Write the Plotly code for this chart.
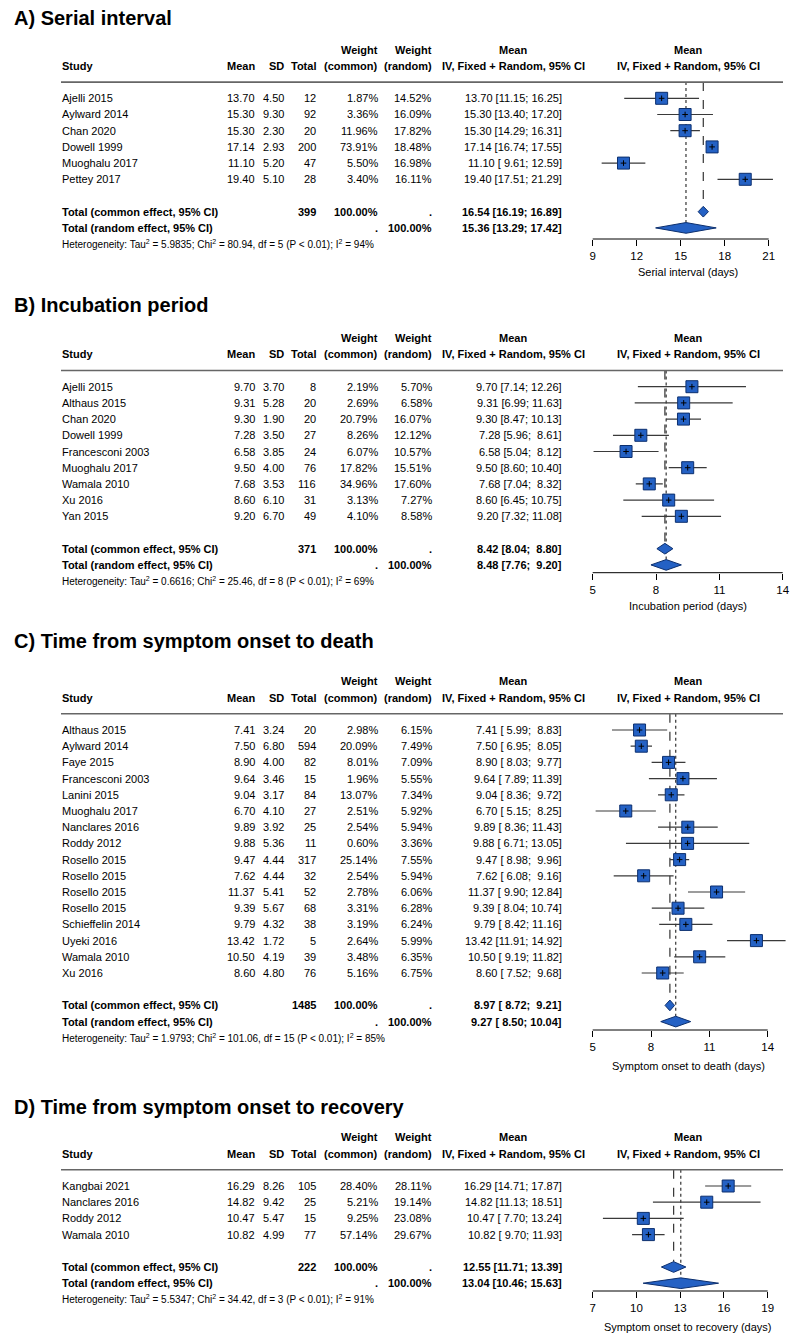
import plotly.graph_objects as go

# ---------------- DATA ----------------
# Panel A: Serial interval
a_title = "A) Serial interval"
a_study = ["Ajelli 2015", "Aylward 2014", "Chan 2020", "Dowell 1999", "Muoghalu 2017", "Pettey 2017"]
a_mean = [13.70, 15.30, 15.30, 17.14, 11.10, 19.40]
a_sd = [4.50, 9.30, 2.30, 2.93, 5.20, 5.10]
a_n = [12, 92, 20, 200, 47, 28]
a_wc = [1.87, 3.36, 11.96, 73.91, 5.50, 3.40]
a_wr = [14.52, 16.09, 17.82, 18.48, 16.98, 16.11]
a_lo = [11.15, 13.40, 14.29, 16.74, 9.61, 17.51]
a_hi = [16.25, 17.20, 16.31, 17.55, 12.59, 21.29]
a_common = [16.54, 16.19, 16.89]
a_random = [15.36, 13.29, 17.42]
a_ntotal = 399
a_het = ["5.9835", "80.94", "5", "94%"]
a_ticks = [9, 12, 15, 18, 21]
a_xlabel = "Serial interval (days)"

# Panel B: Incubation period
b_title = "B) Incubation period"
b_study = ["Ajelli 2015", "Althaus 2015", "Chan 2020", "Dowell 1999", "Francesconi 2003",
           "Muoghalu 2017", "Wamala 2010", "Xu 2016", "Yan 2015"]
b_mean = [9.70, 9.31, 9.30, 7.28, 6.58, 9.50, 7.68, 8.60, 9.20]
b_sd = [3.70, 5.28, 1.90, 3.50, 3.85, 4.00, 3.53, 6.10, 6.70]
b_n = [8, 20, 20, 27, 24, 76, 116, 31, 49]
b_wc = [2.19, 2.69, 20.79, 8.26, 6.07, 17.82, 34.96, 3.13, 4.10]
b_wr = [5.70, 6.58, 16.07, 12.12, 10.57, 15.51, 17.60, 7.27, 8.58]
b_lo = [7.14, 6.99, 8.47, 5.96, 5.04, 8.60, 7.04, 6.45, 7.32]
b_hi = [12.26, 11.63, 10.13, 8.61, 8.12, 10.40, 8.32, 10.75, 11.08]
b_common = [8.42, 8.04, 8.80]
b_random = [8.48, 7.76, 9.20]
b_ntotal = 371
b_het = ["0.6616", "25.46", "8", "69%"]
b_ticks = [5, 8, 11, 14]
b_xlabel = "Incubation period (days)"

# Panel C: Time from symptom onset to death
c_title = "C) Time from symptom onset to death"
c_study = ["Althaus 2015", "Aylward 2014", "Faye 2015", "Francesconi 2003", "Lanini 2015",
           "Muoghalu 2017", "Nanclares 2016", "Roddy 2012", "Rosello 2015", "Rosello 2015",
           "Rosello 2015", "Rosello 2015", "Schieffelin 2014", "Uyeki 2016", "Wamala 2010", "Xu 2016"]
c_mean = [7.41, 7.50, 8.90, 9.64, 9.04, 6.70, 9.89, 9.88, 9.47, 7.62, 11.37, 9.39, 9.79, 13.42, 10.50, 8.60]
c_sd = [3.24, 6.80, 4.00, 3.46, 3.17, 4.10, 3.92, 5.36, 4.44, 4.44, 5.41, 5.67, 4.32, 1.72, 4.19, 4.80]
c_n = [20, 594, 82, 15, 84, 27, 25, 11, 317, 32, 52, 68, 38, 5, 39, 76]
c_wc = [2.98, 20.09, 8.01, 1.96, 13.07, 2.51, 2.54, 0.60, 25.14, 2.54, 2.78, 3.31, 3.19, 2.64, 3.48, 5.16]
c_wr = [6.15, 7.49, 7.09, 5.55, 7.34, 5.92, 5.94, 3.36, 7.55, 5.94, 6.06, 6.28, 6.24, 5.99, 6.35, 6.75]
c_lo = [5.99, 6.95, 8.03, 7.89, 8.36, 5.15, 8.36, 6.71, 8.98, 6.08, 9.90, 8.04, 8.42, 11.91, 9.19, 7.52]
c_hi = [8.83, 8.05, 9.77, 11.39, 9.72, 8.25, 11.43, 13.05, 9.96, 9.16, 12.84, 10.74, 11.16, 14.92, 11.82, 9.68]
c_common = [8.97, 8.72, 9.21]
c_random = [9.27, 8.50, 10.04]
c_ntotal = 1485
c_het = ["1.9793", "101.06", "15", "85%"]
c_ticks = [5, 8, 11, 14]
c_xlabel = "Symptom onset to death (days)"

# Panel D: Time from symptom onset to recovery
d_title = "D) Time from symptom onset to recovery"
d_study = ["Kangbai 2021", "Nanclares 2016", "Roddy 2012", "Wamala 2010"]
d_mean = [16.29, 14.82, 10.47, 10.82]
d_sd = [8.26, 9.42, 5.47, 4.99]
d_n = [105, 25, 15, 77]
d_wc = [28.40, 5.21, 9.25, 57.14]
d_wr = [28.11, 19.14, 23.08, 29.67]
d_lo = [14.71, 11.13, 7.70, 9.70]
d_hi = [17.87, 18.51, 13.24, 11.93]
d_common = [12.55, 11.71, 13.39]
d_random = [13.04, 10.46, 15.63]
d_ntotal = 222
d_het = ["5.5347", "34.42", "3", "91%"]
d_ticks = [7, 10, 13, 16, 19]
d_xlabel = "Symptom onset to recovery (days)"

# ---------------- STYLE / GEOMETRY ----------------
W, H = 800, 1344
ROW = 16.2
FONT = "Liberation Sans, Arial, sans-serif"
BLUE = "#2461C4"
NAVY = "#0C2F6E"
TICK_PX0 = 592.7

panels = [
    dict(title=a_title, study=a_study, mean=a_mean, sd=a_sd, n=a_n, wc=a_wc, wr=a_wr, lo=a_lo, hi=a_hi,
         com=a_common, ran=a_random, ntot=a_ntotal, het=a_het, ticks=a_ticks, xlabel=a_xlabel),
    dict(title=b_title, study=b_study, mean=b_mean, sd=b_sd, n=b_n, wc=b_wc, wr=b_wr, lo=b_lo, hi=b_hi,
         com=b_common, ran=b_random, ntot=b_ntotal, het=b_het, ticks=b_ticks, xlabel=b_xlabel),
    dict(title=c_title, study=c_study, mean=c_mean, sd=c_sd, n=c_n, wc=c_wc, wr=c_wr, lo=c_lo, hi=c_hi,
         com=c_common, ran=c_random, ntot=c_ntotal, het=c_het, ticks=c_ticks, xlabel=c_xlabel),
    dict(title=d_title, study=d_study, mean=d_mean, sd=d_sd, n=d_n, wc=d_wc, wr=d_wr, lo=d_lo, hi=d_hi,
         com=d_common, ran=d_random, ntot=d_ntotal, het=d_het, ticks=d_ticks, xlabel=d_xlabel),
]
geom = [
    dict(title_px=18, first_px=98.3, axis_px=239, xt_px=272, tick_px1=768.7, xr=(8.4, 21.8)),
    dict(title_px=305, first_px=386.7, axis_px=572.7, xt_px=606, tick_px1=782.7, xr=(4.7, 14.3)),
    dict(title_px=641, first_px=730, axis_px=1030, xt_px=1066, tick_px1=767.7, xr=(4.7, 15.3)),
    dict(title_px=1107, first_px=1186, axis_px=1291, xt_px=1327, tick_px1=767.7, xr=(6.6, 19.4)),
]

# column x positions (pixels)
X_STUDY = 61
X_MEAN = 255.5
X_SD = 284.5
X_TOTAL = 317
X_WC = 378.5
X_WR = 432.5
X_CI = 562.5
X_CIHEAD = 513
X_FOREST = 688
X_RULE1 = 783

fig = go.Figure()
annotations = []
shapes = []
layout_axes = {}


def ann(x_px, y, text, yref, anchor="left", size=11, bold=False):
    if bold:
        text = "<b>" + text + "</b>"
    annotations.append(dict(x=x_px / W, xref="paper", y=y, yref=yref, text=text,
                            xanchor=anchor, yanchor="middle", showarrow=False,
                            font=dict(family=FONT, size=size, color="black"),
                            borderpad=0))


for k, (p, g) in enumerate(zip(panels, geom), start=1):
    xa = "x" if k == 1 else f"x{k}"
    ya = "y" if k == 1 else f"y{k}"
    nstud = len(p["study"])
    rows = list(range(nstud))
    r_com, r_ran, r_het = nstud + 1, nstud + 2, nstud + 3
    ticks = p["ticks"]
    s = (g["tick_px1"] - TICK_PX0) / (ticks[-1] - ticks[0])
    x0_px = TICK_PX0 + (g["xr"][0] - ticks[0]) * s
    x1_px = TICK_PX0 + (g["xr"][1] - ticks[0]) * s
    top_px = g["title_px"] - 14
    bot_px = g["xt_px"] + 12
    f = g["first_px"]

    layout_axes["xaxis" if k == 1 else f"xaxis{k}"] = dict(
        domain=[x0_px / W, x1_px / W], range=list(g["xr"]), anchor="free",
        position=1 - g["axis_px"] / H, tickvals=ticks, ticks="outside", ticklen=6,
        tickwidth=1, tickcolor="black", showline=False, showgrid=False, zeroline=False,
        tickfont=dict(family=FONT, size=11.5, color="black"), fixedrange=True)
    layout_axes["yaxis" if k == 1 else f"yaxis{k}"] = dict(
        domain=[1 - bot_px / H, 1 - top_px / H],
        range=[(bot_px - f) / ROW, (top_px - f) / ROW], visible=False, fixedrange=True)

    # reference lines (common dashed, random dotted)
    fig.add_trace(go.Scatter(x=[p["com"][0], p["com"][0]], y=[-1, r_com - 0.33], mode="lines",
                             line=dict(color="#333333", width=1.2, dash="dash"),
                             xaxis=xa, yaxis=ya, hoverinfo="skip", showlegend=False))
    fig.add_trace(go.Scatter(x=[p["ran"][0], p["ran"][0]], y=[-1, r_ran - 0.33], mode="lines",
                             line=dict(color="#333333", width=1.2, dash="dot"),
                             xaxis=xa, yaxis=ya, hoverinfo="skip", showlegend=False))

    # CI lines
    cx, cy = [], []
    for r, lo, hi in zip(rows, p["lo"], p["hi"]):
        cx += [lo, hi, None]
        cy += [r, r, None]
    fig.add_trace(go.Scatter(x=cx, y=cy, mode="lines", line=dict(color="#3a3a3a", width=1.2),
                             xaxis=xa, yaxis=ya, hoverinfo="skip", showlegend=False))
    # squares
    fig.add_trace(go.Scatter(x=p["mean"], y=rows, mode="markers",
                             marker=dict(symbol="square", size=12, color=BLUE,
                                         line=dict(color=NAVY, width=1)),
                             xaxis=xa, yaxis=ya, hoverinfo="skip", showlegend=False))
    fig.add_trace(go.Scatter(x=p["mean"], y=rows, mode="markers",
                             marker=dict(symbol="cross-thin", size=4, color="black",
                                         line=dict(color="black", width=1)),
                             xaxis=xa, yaxis=ya, hoverinfo="skip", showlegend=False))
    # diamonds
    for est, r in ((p["com"], r_com), (p["ran"], r_ran)):
        m, lo, hi = est
        fig.add_trace(go.Scatter(x=[lo, m, hi, m, lo], y=[r, r - 0.33, r, r + 0.33, r],
                                 mode="lines", fill="toself", fillcolor=BLUE,
                                 line=dict(color=NAVY, width=1),
                                 xaxis=xa, yaxis=ya, hoverinfo="skip", showlegend=False))

    # axis line and header rule
    shapes.append(dict(type="line", xref=xa, yref="paper", x0=ticks[0], x1=ticks[-1],
                       y0=1 - g["axis_px"] / H, y1=1 - g["axis_px"] / H,
                       line=dict(color="black", width=1)))
    shapes.append(dict(type="line", xref="paper", yref=ya, x0=X_STUDY / W, x1=X_RULE1 / W,
                       y0=-1, y1=-1, line=dict(color="#666666", width=1.6)))

    # title
    annotations.append(dict(x=12 / W, xref="paper", y=1 - g["title_px"] / H, yref="paper",
                            text="<b>" + p["title"] + "</b>", xanchor="left", yanchor="middle",
                            showarrow=False, font=dict(family=FONT, size=20, color="black")))
    # headers
    ann(X_WC, -3, "Weight", ya, "right", bold=True)
    ann(X_WR, -3, "Weight", ya, "right", bold=True)
    ann(X_CIHEAD, -3, "Mean", ya, "center", bold=True)
    ann(X_FOREST, -3, "Mean", ya, "center", bold=True)
    ann(X_STUDY, -2, "Study", ya, "left", bold=True)
    ann(X_MEAN, -2, "Mean", ya, "right", bold=True)
    ann(X_SD, -2, "SD", ya, "right", bold=True)
    ann(X_TOTAL, -2, "Total", ya, "right", bold=True)
    ann(X_WC, -2, "(common)", ya, "right", bold=True)
    ann(X_WR, -2, "(random)", ya, "right", bold=True)
    ann(X_CIHEAD, -2, "IV, Fixed + Random, 95% CI", ya, "center", bold=True)
    ann(X_FOREST, -2, "IV, Fixed + Random, 95% CI", ya, "center", bold=True)

    wlo = max(len(f"{v:.2f}") for v in p["lo"] + [p["com"][1], p["ran"][1]])
    whi = max(len(f"{v:.2f}") for v in p["hi"] + [p["com"][2], p["ran"][2]])

    def ci(m, lo, hi):
        return f"{m:.2f} [{lo:>{wlo}.2f}; {hi:>{whi}.2f}]"

    for r in rows:
        ann(X_STUDY, r, p["study"][r], ya, "left")
        ann(X_MEAN, r, f"{p['mean'][r]:.2f}", ya, "right")
        ann(X_SD, r, f"{p['sd'][r]:.2f}", ya, "right")
        ann(X_TOTAL, r, f"{p['n'][r]}", ya, "right")
        ann(X_WC, r, f"{p['wc'][r]:.2f}%", ya, "right")
        ann(X_WR, r, f"{p['wr'][r]:.2f}%", ya, "right")
        ann(X_CI, r, ci(p["mean"][r], p["lo"][r], p["hi"][r]), ya, "right")

    ann(X_STUDY, r_com, "Total (common effect, 95% CI)", ya, "left", bold=True)
    ann(X_TOTAL, r_com, f"{p['ntot']}", ya, "right", bold=True)
    ann(X_WC, r_com, "100.00%", ya, "right", bold=True)
    ann(X_WR, r_com, ".", ya, "right", bold=True)
    ann(X_CI, r_com, ci(*p["com"]), ya, "right", bold=True)
    ann(X_STUDY, r_ran, "Total (random effect, 95% CI)", ya, "left", bold=True)
    ann(X_WC, r_ran, ".", ya, "right", bold=True)
    ann(X_WR, r_ran, "100.00%", ya, "right", bold=True)
    ann(X_CI, r_ran, ci(*p["ran"]), ya, "right", bold=True)
    t2, chi2, df, i2 = p["het"]
    ann(X_STUDY, r_het,
        f"Heterogeneity: Tau<sup>2</sup> = {t2}; Chi<sup>2</sup> = {chi2}, df = {df} (P &lt; 0.01); I<sup>2</sup> = {i2}",
        ya, "left", size=10)
    # forest axis title
    annotations.append(dict(x=X_FOREST / W, xref="paper", y=1 - g["xt_px"] / H, yref="paper",
                            text=p["xlabel"], xanchor="center", yanchor="middle", showarrow=False,
                            font=dict(family=FONT, size=11, color="black")))

fig.update_layout(width=W, height=H, margin=dict(l=0, r=0, t=0, b=0),
                  paper_bgcolor="white", plot_bgcolor="white", showlegend=False,
                  annotations=annotations, shapes=shapes, **layout_axes)
fig.write_html("out.html", config={"displayModeBar": False},
               post_script="document.body.style.margin='0px';")
